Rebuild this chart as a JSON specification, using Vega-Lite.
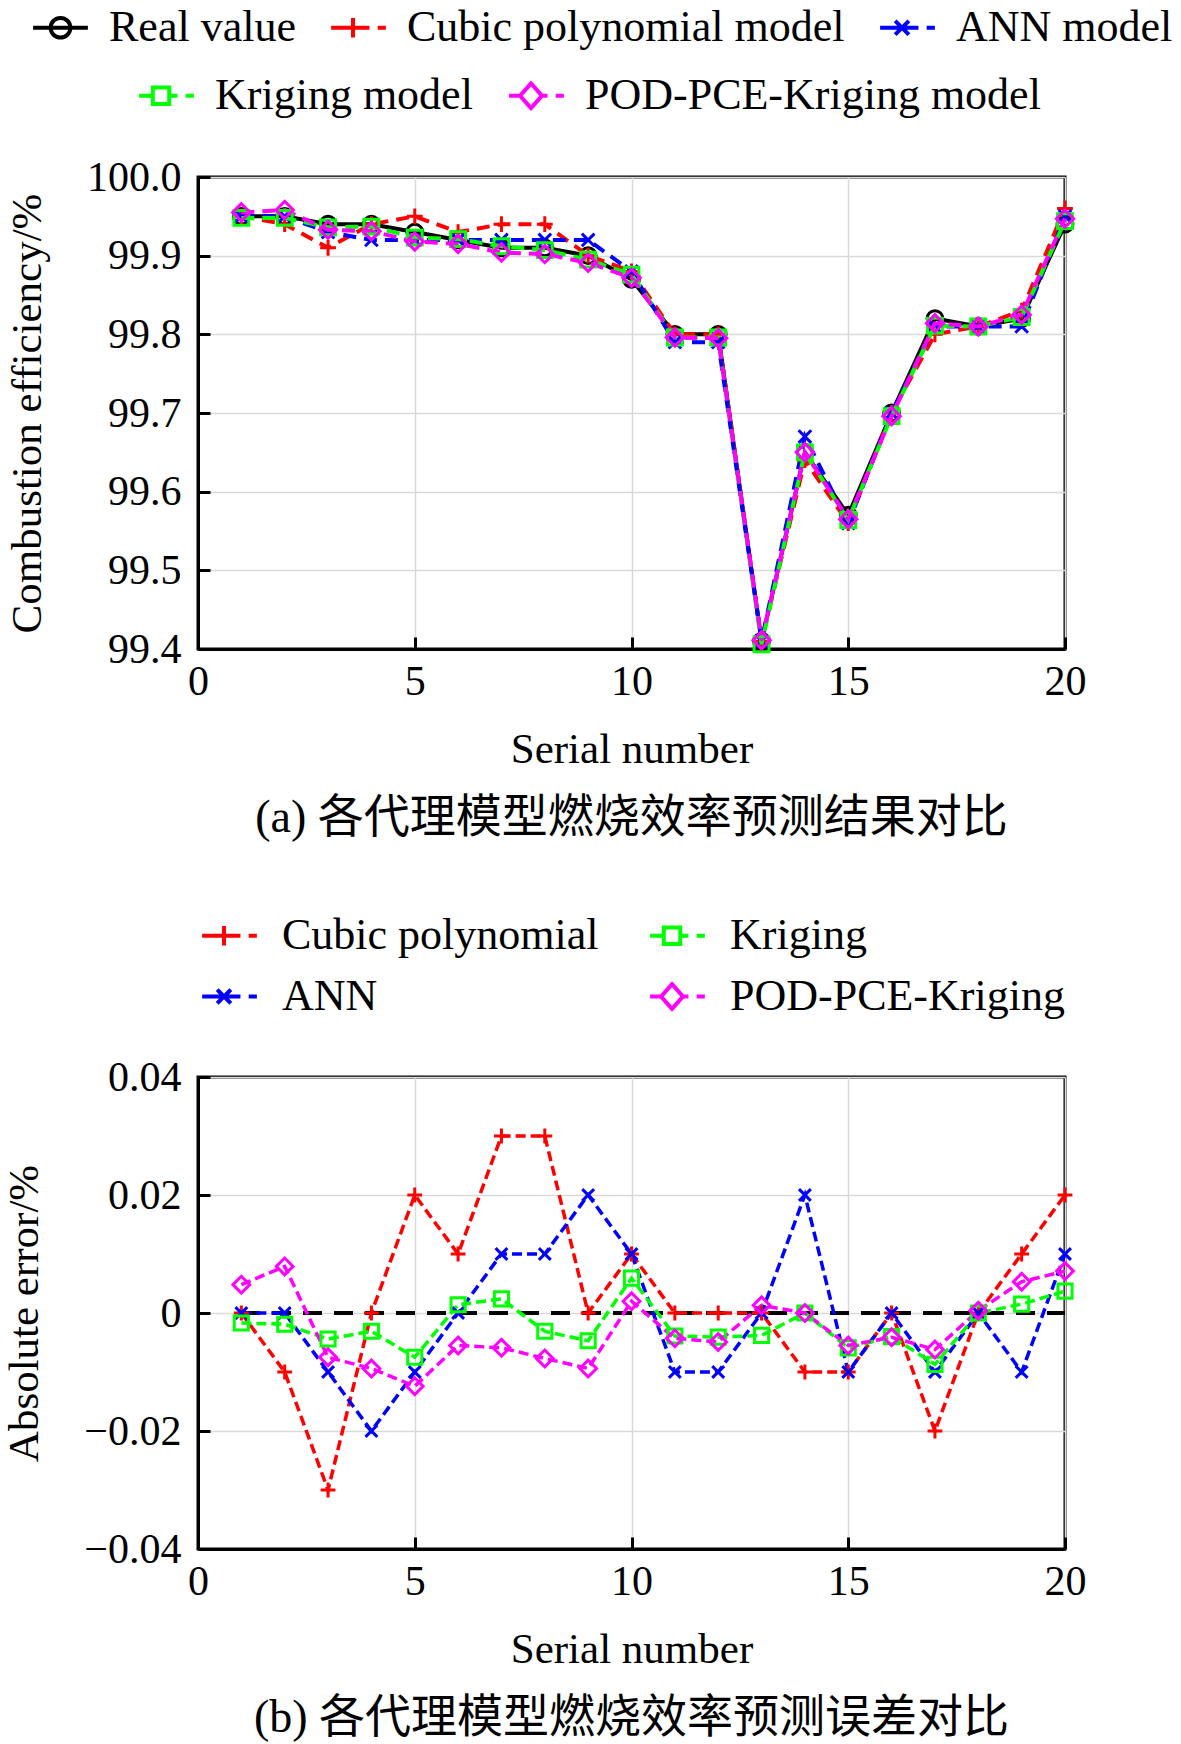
{
  "$schema": "https://vega.github.io/schema/vega-lite/v6.json",
  "background": "white",
  "padding": {"left": 2, "top": -4, "right": 2, "bottom": 2},
  "spacing": 61,
  "resolve": {
    "scale": {"color": "independent", "stroke": "independent"},
    "legend": {"color": "independent", "stroke": "independent"}
  },
  "config": {
    "view": {"stroke": "black", "strokeWidth": 3},
    "axis": {
      "labelFont": "Liberation Serif", "labelFontSize": 42, "labelColor": "black",
      "titleFont": "Liberation Serif", "titleFontSize": 43, "titleFontWeight": "normal", "titleColor": "black",
      "domainColor": "black", "domainWidth": 3, "tickColor": "black", "tickWidth": 3, "tickSize": -12,
      "gridColor": "#d9d9d9", "gridWidth": 1.5, "labelFlush": false, "labelOverlap": false
    },
    "axisX": {"labelPadding": 24, "titlePadding": 26},
    "axisY": {"labelPadding": 29, "titlePadding": 37},
    "legend": {
      "title": null, "labelFont": "Liberation Serif", "labelFontSize": 44, "labelColor": "black",
      "labelLimit": 1000, "labelBaseline": "middle", "padding": 0, "symbolSize": 3000, "symbolStrokeWidth": 4
    },
    "title": {"font": "Liberation Serif, Noto Sans CJK SC", "fontSize": 46, "fontWeight": "normal", "color": "black"}
  },
  "datasets": {
    "eff": [
      {"serial": 1, "model": "Real value", "value": 99.95},
      {"serial": 2, "model": "Real value", "value": 99.95},
      {"serial": 3, "model": "Real value", "value": 99.94},
      {"serial": 4, "model": "Real value", "value": 99.94},
      {"serial": 5, "model": "Real value", "value": 99.93},
      {"serial": 6, "model": "Real value", "value": 99.92},
      {"serial": 7, "model": "Real value", "value": 99.91},
      {"serial": 8, "model": "Real value", "value": 99.91},
      {"serial": 9, "model": "Real value", "value": 99.90},
      {"serial": 10, "model": "Real value", "value": 99.87},
      {"serial": 11, "model": "Real value", "value": 99.80},
      {"serial": 12, "model": "Real value", "value": 99.80},
      {"serial": 13, "model": "Real value", "value": 99.41},
      {"serial": 14, "model": "Real value", "value": 99.65},
      {"serial": 15, "model": "Real value", "value": 99.57},
      {"serial": 16, "model": "Real value", "value": 99.70},
      {"serial": 17, "model": "Real value", "value": 99.82},
      {"serial": 18, "model": "Real value", "value": 99.81},
      {"serial": 19, "model": "Real value", "value": 99.82},
      {"serial": 20, "model": "Real value", "value": 99.94},
      {"serial": 1, "model": "Cubic polynomial model", "value": 99.95},
      {"serial": 2, "model": "Cubic polynomial model", "value": 99.94},
      {"serial": 3, "model": "Cubic polynomial model", "value": 99.91},
      {"serial": 4, "model": "Cubic polynomial model", "value": 99.94},
      {"serial": 5, "model": "Cubic polynomial model", "value": 99.95},
      {"serial": 6, "model": "Cubic polynomial model", "value": 99.93},
      {"serial": 7, "model": "Cubic polynomial model", "value": 99.94},
      {"serial": 8, "model": "Cubic polynomial model", "value": 99.94},
      {"serial": 9, "model": "Cubic polynomial model", "value": 99.90},
      {"serial": 10, "model": "Cubic polynomial model", "value": 99.88},
      {"serial": 11, "model": "Cubic polynomial model", "value": 99.80},
      {"serial": 12, "model": "Cubic polynomial model", "value": 99.80},
      {"serial": 13, "model": "Cubic polynomial model", "value": 99.41},
      {"serial": 14, "model": "Cubic polynomial model", "value": 99.64},
      {"serial": 15, "model": "Cubic polynomial model", "value": 99.56},
      {"serial": 16, "model": "Cubic polynomial model", "value": 99.70},
      {"serial": 17, "model": "Cubic polynomial model", "value": 99.80},
      {"serial": 18, "model": "Cubic polynomial model", "value": 99.81},
      {"serial": 19, "model": "Cubic polynomial model", "value": 99.83},
      {"serial": 20, "model": "Cubic polynomial model", "value": 99.96},
      {"serial": 1, "model": "ANN model", "value": 99.95},
      {"serial": 2, "model": "ANN model", "value": 99.95},
      {"serial": 3, "model": "ANN model", "value": 99.93},
      {"serial": 4, "model": "ANN model", "value": 99.92},
      {"serial": 5, "model": "ANN model", "value": 99.92},
      {"serial": 6, "model": "ANN model", "value": 99.92},
      {"serial": 7, "model": "ANN model", "value": 99.92},
      {"serial": 8, "model": "ANN model", "value": 99.92},
      {"serial": 9, "model": "ANN model", "value": 99.92},
      {"serial": 10, "model": "ANN model", "value": 99.88},
      {"serial": 11, "model": "ANN model", "value": 99.79},
      {"serial": 12, "model": "ANN model", "value": 99.79},
      {"serial": 13, "model": "ANN model", "value": 99.41},
      {"serial": 14, "model": "ANN model", "value": 99.67},
      {"serial": 15, "model": "ANN model", "value": 99.56},
      {"serial": 16, "model": "ANN model", "value": 99.70},
      {"serial": 17, "model": "ANN model", "value": 99.81},
      {"serial": 18, "model": "ANN model", "value": 99.81},
      {"serial": 19, "model": "ANN model", "value": 99.81},
      {"serial": 20, "model": "ANN model", "value": 99.95},
      {"serial": 1, "model": "Kriging model", "value": 99.948},
      {"serial": 2, "model": "Kriging model", "value": 99.948},
      {"serial": 3, "model": "Kriging model", "value": 99.936},
      {"serial": 4, "model": "Kriging model", "value": 99.937},
      {"serial": 5, "model": "Kriging model", "value": 99.923},
      {"serial": 6, "model": "Kriging model", "value": 99.921},
      {"serial": 7, "model": "Kriging model", "value": 99.912},
      {"serial": 8, "model": "Kriging model", "value": 99.907},
      {"serial": 9, "model": "Kriging model", "value": 99.895},
      {"serial": 10, "model": "Kriging model", "value": 99.876},
      {"serial": 11, "model": "Kriging model", "value": 99.796},
      {"serial": 12, "model": "Kriging model", "value": 99.796},
      {"serial": 13, "model": "Kriging model", "value": 99.406},
      {"serial": 14, "model": "Kriging model", "value": 99.650},
      {"serial": 15, "model": "Kriging model", "value": 99.564},
      {"serial": 16, "model": "Kriging model", "value": 99.696},
      {"serial": 17, "model": "Kriging model", "value": 99.811},
      {"serial": 18, "model": "Kriging model", "value": 99.810},
      {"serial": 19, "model": "Kriging model", "value": 99.822},
      {"serial": 20, "model": "Kriging model", "value": 99.944},
      {"serial": 1, "model": "POD-PCE-Kriging model", "value": 99.955},
      {"serial": 2, "model": "POD-PCE-Kriging model", "value": 99.958},
      {"serial": 3, "model": "POD-PCE-Kriging model", "value": 99.933},
      {"serial": 4, "model": "POD-PCE-Kriging model", "value": 99.931},
      {"serial": 5, "model": "POD-PCE-Kriging model", "value": 99.918},
      {"serial": 6, "model": "POD-PCE-Kriging model", "value": 99.915},
      {"serial": 7, "model": "POD-PCE-Kriging model", "value": 99.904},
      {"serial": 8, "model": "POD-PCE-Kriging model", "value": 99.902},
      {"serial": 9, "model": "POD-PCE-Kriging model", "value": 99.891},
      {"serial": 10, "model": "POD-PCE-Kriging model", "value": 99.872},
      {"serial": 11, "model": "POD-PCE-Kriging model", "value": 99.796},
      {"serial": 12, "model": "POD-PCE-Kriging model", "value": 99.795},
      {"serial": 13, "model": "POD-PCE-Kriging model", "value": 99.411},
      {"serial": 14, "model": "POD-PCE-Kriging model", "value": 99.650},
      {"serial": 15, "model": "POD-PCE-Kriging model", "value": 99.565},
      {"serial": 16, "model": "POD-PCE-Kriging model", "value": 99.696},
      {"serial": 17, "model": "POD-PCE-Kriging model", "value": 99.814},
      {"serial": 18, "model": "POD-PCE-Kriging model", "value": 99.810},
      {"serial": 19, "model": "POD-PCE-Kriging model", "value": 99.825},
      {"serial": 20, "model": "POD-PCE-Kriging model", "value": 99.947}
    ],
    "err": [
      {"serial": 1, "model": "Cubic polynomial", "error": 0},
      {"serial": 2, "model": "Cubic polynomial", "error": -0.01},
      {"serial": 3, "model": "Cubic polynomial", "error": -0.03},
      {"serial": 4, "model": "Cubic polynomial", "error": 0},
      {"serial": 5, "model": "Cubic polynomial", "error": 0.02},
      {"serial": 6, "model": "Cubic polynomial", "error": 0.01},
      {"serial": 7, "model": "Cubic polynomial", "error": 0.03},
      {"serial": 8, "model": "Cubic polynomial", "error": 0.03},
      {"serial": 9, "model": "Cubic polynomial", "error": 0},
      {"serial": 10, "model": "Cubic polynomial", "error": 0.01},
      {"serial": 11, "model": "Cubic polynomial", "error": 0},
      {"serial": 12, "model": "Cubic polynomial", "error": 0},
      {"serial": 13, "model": "Cubic polynomial", "error": 0},
      {"serial": 14, "model": "Cubic polynomial", "error": -0.01},
      {"serial": 15, "model": "Cubic polynomial", "error": -0.01},
      {"serial": 16, "model": "Cubic polynomial", "error": 0},
      {"serial": 17, "model": "Cubic polynomial", "error": -0.02},
      {"serial": 18, "model": "Cubic polynomial", "error": 0},
      {"serial": 19, "model": "Cubic polynomial", "error": 0.01},
      {"serial": 20, "model": "Cubic polynomial", "error": 0.02},
      {"serial": 1, "model": "ANN", "error": 0},
      {"serial": 2, "model": "ANN", "error": 0},
      {"serial": 3, "model": "ANN", "error": -0.01},
      {"serial": 4, "model": "ANN", "error": -0.02},
      {"serial": 5, "model": "ANN", "error": -0.01},
      {"serial": 6, "model": "ANN", "error": 0},
      {"serial": 7, "model": "ANN", "error": 0.01},
      {"serial": 8, "model": "ANN", "error": 0.01},
      {"serial": 9, "model": "ANN", "error": 0.02},
      {"serial": 10, "model": "ANN", "error": 0.01},
      {"serial": 11, "model": "ANN", "error": -0.01},
      {"serial": 12, "model": "ANN", "error": -0.01},
      {"serial": 13, "model": "ANN", "error": 0},
      {"serial": 14, "model": "ANN", "error": 0.02},
      {"serial": 15, "model": "ANN", "error": -0.01},
      {"serial": 16, "model": "ANN", "error": 0},
      {"serial": 17, "model": "ANN", "error": -0.01},
      {"serial": 18, "model": "ANN", "error": 0},
      {"serial": 19, "model": "ANN", "error": -0.01},
      {"serial": 20, "model": "ANN", "error": 0.01},
      {"serial": 1, "model": "Kriging", "error": -0.0017},
      {"serial": 2, "model": "Kriging", "error": -0.0019},
      {"serial": 3, "model": "Kriging", "error": -0.0044},
      {"serial": 4, "model": "Kriging", "error": -0.0031},
      {"serial": 5, "model": "Kriging", "error": -0.0075},
      {"serial": 6, "model": "Kriging", "error": 0.0014},
      {"serial": 7, "model": "Kriging", "error": 0.0024},
      {"serial": 8, "model": "Kriging", "error": -0.0031},
      {"serial": 9, "model": "Kriging", "error": -0.0047},
      {"serial": 10, "model": "Kriging", "error": 0.0059},
      {"serial": 11, "model": "Kriging", "error": -0.0039},
      {"serial": 12, "model": "Kriging", "error": -0.0041},
      {"serial": 13, "model": "Kriging", "error": -0.0038},
      {"serial": 14, "model": "Kriging", "error": 0},
      {"serial": 15, "model": "Kriging", "error": -0.0059},
      {"serial": 16, "model": "Kriging", "error": -0.0040},
      {"serial": 17, "model": "Kriging", "error": -0.0087},
      {"serial": 18, "model": "Kriging", "error": 0},
      {"serial": 19, "model": "Kriging", "error": 0.0015},
      {"serial": 20, "model": "Kriging", "error": 0.0037},
      {"serial": 1, "model": "POD-PCE-Kriging", "error": 0.0048},
      {"serial": 2, "model": "POD-PCE-Kriging", "error": 0.0079},
      {"serial": 3, "model": "POD-PCE-Kriging", "error": -0.0075},
      {"serial": 4, "model": "POD-PCE-Kriging", "error": -0.0094},
      {"serial": 5, "model": "POD-PCE-Kriging", "error": -0.0124},
      {"serial": 6, "model": "POD-PCE-Kriging", "error": -0.0055},
      {"serial": 7, "model": "POD-PCE-Kriging", "error": -0.0059},
      {"serial": 8, "model": "POD-PCE-Kriging", "error": -0.0077},
      {"serial": 9, "model": "POD-PCE-Kriging", "error": -0.0094},
      {"serial": 10, "model": "POD-PCE-Kriging", "error": 0.0020},
      {"serial": 11, "model": "POD-PCE-Kriging", "error": -0.0043},
      {"serial": 12, "model": "POD-PCE-Kriging", "error": -0.0049},
      {"serial": 13, "model": "POD-PCE-Kriging", "error": 0.0013},
      {"serial": 14, "model": "POD-PCE-Kriging", "error": 0},
      {"serial": 15, "model": "POD-PCE-Kriging", "error": -0.0055},
      {"serial": 16, "model": "POD-PCE-Kriging", "error": -0.0041},
      {"serial": 17, "model": "POD-PCE-Kriging", "error": -0.0062},
      {"serial": 18, "model": "POD-PCE-Kriging", "error": 0.0004},
      {"serial": 19, "model": "POD-PCE-Kriging", "error": 0.0053},
      {"serial": 20, "model": "POD-PCE-Kriging", "error": 0.0071}
    ]
  },
  "vconcat": [
    {
      "width": 867,
      "height": 472,
      "data": {"name": "eff"},
      "title": {"text": "(a) 各代理模型燃烧效率预测结果对比", "orient": "bottom", "anchor": "middle", "frame": "group", "offset": 25},
      "encoding": {
        "x": {"field": "serial", "type": "quantitative", "scale": {"domain": [0, 20], "nice": false},
              "axis": {"values": [0, 5, 10, 15, 20], "title": "Serial number"}},
        "y": {"field": "value", "type": "quantitative", "scale": {"domain": [99.4, 100.0], "zero": false, "nice": false},
              "axis": {"values": [99.4, 99.5, 99.6, 99.7, 99.8, 99.9, 100.0], "format": ".1f", "title": "Combustion efficiency/%"}}
      },
      "layer": [
        {
          "transform": [{"filter": "datum.model == 'Real value'"}],
          "mark": {"type": "line", "strokeWidth": 4},
          "encoding": {
            "color": {"field": "model", "type": "nominal",
              "scale": {"domain": ["Real value", "Cubic polynomial model", "ANN model"], "range": ["#000000", "#ff0000", "#0000ff"]},
              "legend": {"orient": "none", "legendX": -167, "legendY": -179, "direction": "horizontal", "columnPadding": 27, "labelOffset": 19,
                "encode": {"symbols": {"update": {
                  "shape": {"signal": "datum.value == 'Real value' ? 'M-1,0H1M0.36,0A0.36,0.36 0 1,1 -0.36,0A0.36,0.36 0 1,1 0.36,0' : datum.value == 'Cubic polynomial model' ? 'M-1,0H0.4M0.7,0H1M-0.2,-0.36V0.36' : 'M-1,0H0.4M0.7,0H1M-0.45,-0.25L0.05,0.25M-0.45,0.25L0.05,-0.25'"},
                  "fill": {"value": "transparent"}, "strokeWidth": {"value": 4}, "opacity": {"value": 1}}}}}}
          }
        },
        {
          "transform": [{"filter": "datum.model == 'Real value'"}],
          "mark": {"type": "point", "shape": "circle", "filled": false, "color": "#000000", "strokeWidth": 3, "size": 250, "opacity": 1}
        },
        {
          "transform": [{"filter": "datum.model == 'Cubic polynomial model' || datum.model == 'ANN model'"}],
          "mark": {"type": "line", "strokeWidth": 4, "strokeDash": [13, 8]},
          "encoding": {"color": {"field": "model", "type": "nominal"}}
        },
        {
          "transform": [{"filter": "datum.model == 'Cubic polynomial model'"}],
          "mark": {"type": "point", "shape": "M-1,0H1M0,-1V1", "filled": false, "color": "#ff0000", "strokeWidth": 3, "size": 250, "opacity": 1}
        },
        {
          "transform": [{"filter": "datum.model == 'ANN model'"}],
          "mark": {"type": "point", "shape": "M-0.8,-0.8L0.8,0.8M-0.8,0.8L0.8,-0.8", "filled": false, "color": "#0000ff", "strokeWidth": 3, "size": 250, "opacity": 1}
        },
        {
          "transform": [{"filter": "datum.model == 'Kriging model' || datum.model == 'POD-PCE-Kriging model'"}],
          "mark": {"type": "line", "strokeWidth": 4, "strokeDash": [13, 8]},
          "encoding": {
            "stroke": {"field": "model", "type": "nominal",
              "scale": {"domain": ["Kriging model", "POD-PCE-Kriging model"], "range": ["#00ff00", "#ff00ff"]},
              "legend": {"orient": "none", "legendX": -61, "legendY": -111, "direction": "horizontal", "columnPadding": 28, "labelOffset": 19,
                "encode": {"symbols": {"update": {
                  "shape": {"signal": "datum.value == 'Kriging model' ? 'M-1,0H-0.5M0.1,0H0.4M0.7,0H1M-0.5,-0.3H0.1V0.3H-0.5Z' : 'M-1,0H-0.6M0.2,0H0.4M0.7,0H1M-0.2,-0.45L0.2,0L-0.2,0.45L-0.6,0Z'"},
                  "fill": {"value": "transparent"}, "strokeWidth": {"value": 4}, "strokeDash": {"value": [1, 0]}, "opacity": {"value": 1}}}}}}
          }
        },
        {
          "transform": [{"filter": "datum.model == 'Kriging model'"}],
          "mark": {"type": "point", "shape": "square", "filled": false, "color": "#00ff00", "strokeWidth": 3, "size": 220, "opacity": 1}
        },
        {
          "transform": [{"filter": "datum.model == 'POD-PCE-Kriging model'"}],
          "mark": {"type": "point", "shape": "diamond", "filled": false, "color": "#ff00ff", "strokeWidth": 3, "size": 300, "opacity": 1}
        }
      ]
    },
    {
      "width": 867,
      "height": 472,
      "data": {"name": "err"},
      "title": {"text": "(b) 各代理模型燃烧效率预测误差对比", "orient": "bottom", "anchor": "middle", "frame": "group", "offset": 25},
      "encoding": {
        "x": {"field": "serial", "type": "quantitative", "scale": {"domain": [0, 20], "nice": false},
              "axis": {"values": [0, 5, 10, 15, 20], "title": "Serial number"}},
        "y": {"field": "error", "type": "quantitative", "scale": {"domain": [-0.04, 0.04], "nice": false},
              "axis": {"values": [-0.04, -0.02, 0, 0.02, 0.04], "labelExpr": "datum.value == 0 ? '0' : replace(format(datum.value, '.2f'), '-', '\u2212')", "title": "Absolute error/%"}}
      },
      "layer": [
        {
          "mark": {"type": "rule", "color": "black", "strokeWidth": 4, "strokeDash": [18, 13]},
          "encoding": {"y": {"datum": 0}, "x": {"datum": 1}, "x2": {"datum": 20}}
        },
        {
          "mark": {"type": "line", "strokeWidth": 3.5, "strokeDash": [10, 5]},
          "encoding": {
            "color": {"field": "model", "type": "nominal",
              "scale": {"domain": ["Cubic polynomial", "Kriging", "ANN", "POD-PCE-Kriging"], "range": ["#ff0000", "#00ff00", "#0000ff", "#ff00ff"]},
              "legend": {"orient": "none", "legendX": 2, "legendY": -171, "direction": "horizontal", "columns": 2, "columnPadding": 43, "rowPadding": 9, "labelOffset": 23,
                "encode": {"symbols": {"update": {
                  "shape": {"signal": "datum.value == 'Cubic polynomial' ? 'M-1,0H0.4M0.7,0H1M-0.2,-0.36V0.36' : datum.value == 'ANN' ? 'M-1,0H0.4M0.7,0H1M-0.45,-0.25L0.05,0.25M-0.45,0.25L0.05,-0.25' : datum.value == 'Kriging' ? 'M-1,0H-0.5M0.1,0H0.4M0.7,0H1M-0.5,-0.3H0.1V0.3H-0.5Z' : 'M-1,0H-0.6M0.2,0H0.4M0.7,0H1M-0.2,-0.45L0.2,0L-0.2,0.45L-0.6,0Z'"},
                  "fill": {"value": "transparent"}, "strokeWidth": {"value": 4}, "strokeDash": {"value": [1, 0]}, "opacity": {"value": 1}}}}}}
          }
        },
        {
          "transform": [{"filter": "datum.model == 'Cubic polynomial'"}],
          "mark": {"type": "point", "shape": "M-1,0H1M0,-1V1", "filled": false, "color": "#ff0000", "strokeWidth": 3, "size": 220, "opacity": 1}
        },
        {
          "transform": [{"filter": "datum.model == 'ANN'"}],
          "mark": {"type": "point", "shape": "M-0.8,-0.8L0.8,0.8M-0.8,0.8L0.8,-0.8", "filled": false, "color": "#0000ff", "strokeWidth": 3, "size": 220, "opacity": 1}
        },
        {
          "transform": [{"filter": "datum.model == 'Kriging'"}],
          "mark": {"type": "point", "shape": "square", "filled": false, "color": "#00ff00", "strokeWidth": 3, "size": 200, "opacity": 1}
        },
        {
          "transform": [{"filter": "datum.model == 'POD-PCE-Kriging'"}],
          "mark": {"type": "point", "shape": "diamond", "filled": false, "color": "#ff00ff", "strokeWidth": 3, "size": 280, "opacity": 1}
        }
      ]
    }
  ]
}
